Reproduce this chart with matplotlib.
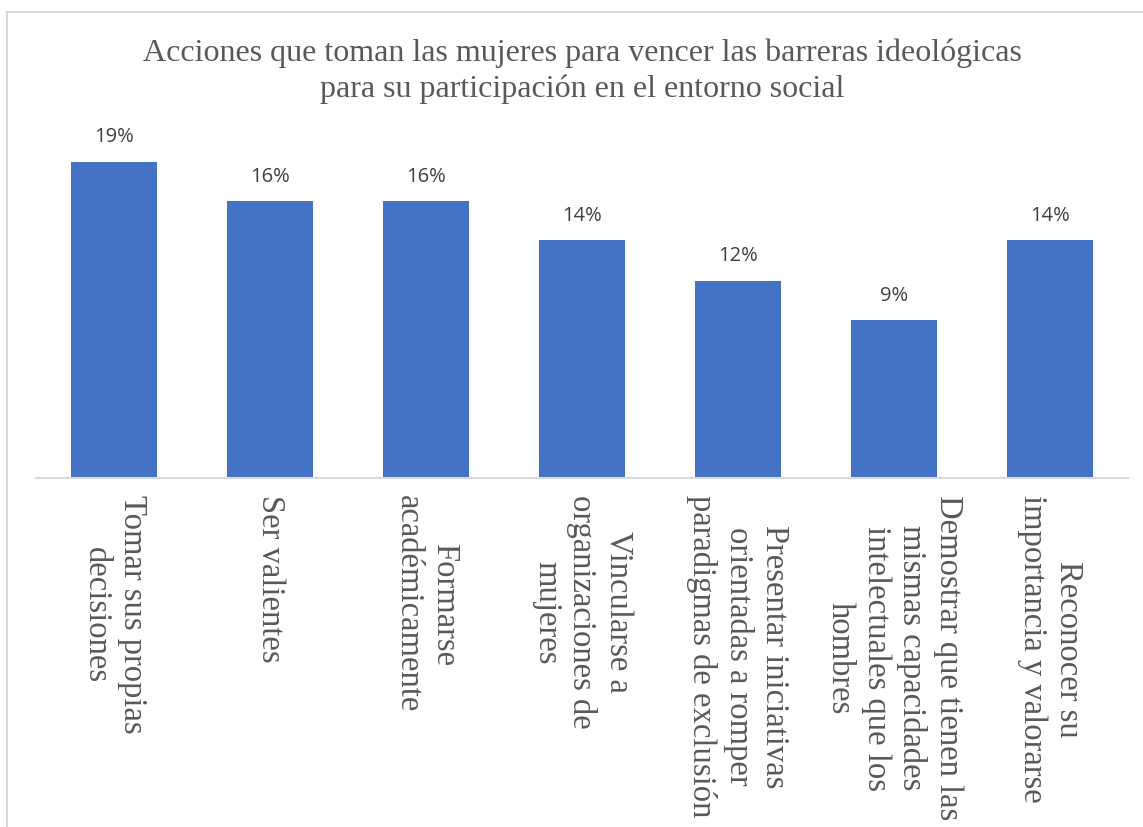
import matplotlib
matplotlib.use('Agg')
import matplotlib.pyplot as plt
import matplotlib.patches as mpatches

categories = ['Tomar sus propias\ndecisiones',
              'Ser valientes',
              'Formarse\nacadémicamente',
              'Vincularse a\norganizaciones de\nmujeres',
              'Presentar iniciativas\norientadas a romper\nparadigmas de exclusión',
              'Demostrar que tienen las\nmismas capacidades\nintelectuales que los\nhombres',
              'Reconocer su\nimportancia y valorarse']
percentages = [18.6, 16.3, 16.3, 14.0, 11.6, 9.3, 14.0]
title = 'Acciones que toman las mujeres para vencer las barreras ideológicas\npara su participación en el entorno social'

bar_color = '#4472C4'
text_gray = '#595959'

fig = plt.figure(figsize=(11.43, 8.27), dpi=100)
ax = fig.add_axes([36 / 1143, 1 - 478 / 827, (1128 - 36) / 1143, (478 - 130) / 827])

# chart border
fig.patches.append(mpatches.Rectangle((7 / 1143, -0.01), 1.1, 1 - 12 / 827 + 0.01,
                                      transform=fig.transFigure, fill=False,
                                      edgecolor='#D9D9D9', linewidth=1.5))

x = list(range(len(categories)))
bars = ax.bar(x, percentages, width=0.55, color=bar_color)
ax.set_xlim(-0.5, len(categories) - 0.5)
ax.set_ylim(0, 20.47)

for xi, p in zip(x, percentages):
    ax.annotate(f'{round(p):.0f}%', (xi, p), xytext=(0, 17.5), textcoords='offset points',
                ha='center', va='center', fontsize=14.5, color='#404040',
                family='Open Sans')

for s in ['top', 'right', 'left']:
    ax.spines[s].set_visible(False)
ax.spines['bottom'].set_color('#D9D9D9')
ax.spines['bottom'].set_linewidth(1.5)
ax.set_yticks([])
ax.set_xticks(x)
ax.set_xticklabels([])
ax.tick_params(axis='x', length=0)

for xi, lab in zip(x, categories):
    ax.text(xi, -0.05, lab, transform=ax.get_xaxis_transform(), rotation=270,
            ha='center', va='top', multialignment='center', fontsize=23.5,
            family='Liberation Serif', color=text_gray, linespacing=1.22)

fig.text(582 / 1143, 1 - 71 / 827, title, ha='center', va='center', fontsize=23,
         family='Liberation Serif', color=text_gray, linespacing=1.3)

fig.savefig('out.png', dpi=100)
